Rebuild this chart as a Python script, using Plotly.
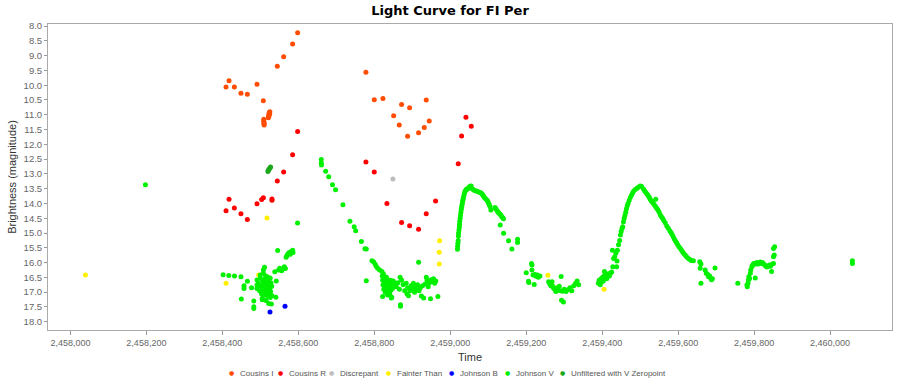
import plotly.graph_objects as go

# ---- photometry of FI Per (JD, magnitude) by band ----
cousins_i_jd = [2458409.7, 2458417.6, 2458431.6, 2458449.0, 2458465.8, 2458491.2, 2458507.9,
                2458509.0, 2458509.0, 2458509.5, 2458510.0, 2458510.0,
                2458521.0, 2458522.0, 2458522.5, 2458523.0, 2458524.0, 2458524.5, 2458525.0,
                2458544.7, 2458561.4, 2458585.0, 2458598.2,
                2458778.0, 2458800.0, 2458822.8, 2458851.0, 2458865.8, 2458871.9, 2458887.7,
                2458893.0, 2458916.6, 2458931.6, 2458936.8, 2458944.7]
cousins_i_mag = [10.06, 9.85, 10.06, 10.27, 10.31, 9.97, 10.53,
                 11.15, 11.22, 11.30, 11.28, 11.35,
                 11.10, 11.02, 11.06, 10.95, 10.92, 10.97, 10.90,
                 9.36, 9.04, 8.61, 8.23,
                 9.56, 10.49, 10.45, 11.03, 11.35, 10.65, 11.73,
                 10.76, 11.61, 11.43, 10.50, 11.21]

cousins_r_jd = [2458598.2, 2458585.0, 2458561.4, 2458544.7,
                2458409.7, 2458417.6, 2458431.6, 2458449.0, 2458465.8, 2458491.2, 2458503.5,
                2458508.0, 2458530.7, 2458530.7,
                2458778.0, 2458800.0, 2458833.3, 2458871.9, 2458893.0, 2458916.6, 2458936.8,
                2458961.4, 2459021.0, 2459029.8, 2459041.3, 2459055.3]
cousins_r_mag = [11.57, 12.35, 12.94, 13.24,
                 14.25, 13.86, 14.15, 14.35, 14.54, 14.01, 13.87,
                 13.81, 13.89, 13.85,
                 12.60, 12.94, 14.00, 14.64, 14.75, 14.87, 14.35,
                 13.92, 12.66, 11.72, 11.08, 11.39]

discrepant_jd = [2458849.0]
discrepant_mag = [13.17]

fainter_jd = [2458039.5, 2458409.7, 2458495.6, 2458517.5, 2458972.0, 2458971.0, 2458971.0,
              2459257.0, 2459405.0]
fainter_mag = [16.42, 16.70, 16.42, 14.49, 15.26, 15.65, 16.05, 16.43, 16.90]

johnson_b_jd = [2458525.4, 2458565.0]
johnson_b_mag = [17.67, 17.48]

unfiltered_jd = [2458520.0, 2458521.0, 2458523.0, 2458525.0, 2458527.0]
unfiltered_mag = [12.92, 12.88, 12.84, 12.80, 12.77]

# Johnson V, season by season
v_jd_2017 = [2458197.4]
v_mag_2017 = [13.37]

v_jd_2018 = [2458402, 2458417, 2458432, 2458449, 2458450, 2458457, 2458457, 2458466, 2458477,
             2458483, 2458483, 2458483, 2458491, 2458491, 2458491, 2458495, 2458498, 2458500,
             2458500, 2458502, 2458503, 2458505, 2458505, 2458505, 2458506, 2458508, 2458508,
             2458509, 2458510, 2458511, 2458511, 2458512, 2458513, 2458514, 2458515, 2458515,
             2458516, 2458517, 2458517, 2458518, 2458518, 2458519, 2458520, 2458520, 2458521,
             2458522, 2458522, 2458523, 2458524, 2458525, 2458526, 2458526, 2458527, 2458528,
             2458529, 2458530, 2458531, 2458538, 2458541, 2458542, 2458545.6, 2458548, 2458551,
             2458556, 2458560, 2458563, 2458566, 2458568, 2458570, 2458573, 2458576, 2458579,
             2458582, 2458585, 2458586, 2458598]
v_mag_2018 = [16.41, 16.44, 16.45, 16.48, 17.23, 16.78, 16.88, 16.63, 16.85,
              17.30, 17.49, 17.55, 16.59, 16.76, 16.88, 16.70, 16.95, 16.42,
              16.53, 16.80, 17.05, 16.93, 17.21, 17.26, 16.62, 16.25, 16.36,
              16.70, 16.85, 16.16, 16.98, 17.10, 16.55, 16.45, 16.78, 17.28,
              16.62, 16.90, 17.02, 16.48, 16.70, 16.82, 17.15, 16.58, 16.93,
              16.66, 17.38, 17.05, 16.74, 16.88, 16.52, 17.18, 16.98, 16.68,
              17.40, 16.80, 17.12, 16.31, 17.17, 16.62, 15.59, 16.25, 16.19,
              16.28, 16.22, 16.14, 16.20, 15.82, 15.76, 15.70, 15.66, 15.72,
              15.62, 15.58, 15.66, 14.66]

v_jd_2019 = [2458660.5, 2458660.5, 2458661, 2458672, 2458680, 2458690, 2458698, 2458717.5,
             2458736, 2458747, 2458751, 2458766, 2458775.5, 2458779, 2458779, 2458794, 2458798,
             2458802, 2458805, 2458809, 2458814,
             2458820, 2458821, 2458822, 2458822, 2458823, 2458824, 2458825, 2458826, 2458827,
             2458828, 2458829, 2458830, 2458831, 2458832, 2458833, 2458834, 2458835, 2458836,
             2458837, 2458838, 2458840, 2458841, 2458842, 2458843, 2458844, 2458845, 2458846,
             2458847, 2458848, 2458850, 2458851, 2458855, 2458858, 2458862, 2458866, 2458868,
             2458869, 2458869, 2458872, 2458876, 2458880, 2458884, 2458886, 2458888, 2458890,
             2458894, 2458897, 2458900, 2458903, 2458906, 2458908, 2458911, 2458914, 2458916.7,
             2458918, 2458921, 2458924, 2458927, 2458930, 2458934, 2458937, 2458939, 2458942,
             2458945, 2458948, 2458950, 2458953, 2458956, 2458959, 2458962, 2458967.5]
v_mag_2019 = [12.51, 12.63, 12.70, 12.91, 13.10, 13.37, 13.54, 14.04,
              14.60, 14.79, 14.92, 15.29, 15.53, 15.54, 16.61, 15.94, 15.97,
              16.05, 16.12, 16.19, 16.25,
              16.30, 16.45, 16.60, 17.15, 16.75, 16.38, 16.90, 16.55, 16.70,
              16.48, 17.00, 16.62, 16.80, 16.50, 16.95, 16.68, 17.10, 16.58,
              16.85, 16.72, 16.65, 17.05, 16.78, 16.60, 16.93, 17.20, 17.17,
              16.70, 16.88, 16.62, 16.75, 16.70, 16.82, 16.68, 16.90, 16.50,
              17.43, 17.48, 16.60, 16.75, 16.95, 16.70, 17.05, 16.85, 17.12,
              16.95, 16.78, 16.88, 16.70, 17.00, 16.82, 16.92, 16.75, 15.99,
              16.95, 16.85, 17.13, 16.78, 17.20, 16.72, 16.50, 16.60, 16.82,
              16.68, 17.22, 16.58, 16.65, 16.55, 16.70, 16.62, 17.15]

v_jd_2020 = [2459019, 2459019.5, 2459020, 2459021, 2459021.5, 2459022, 2459023, 2459024,
             2459024.5, 2459025, 2459026, 2459027, 2459028, 2459029, 2459030, 2459031, 2459032,
             2459033, 2459034, 2459035, 2459036.5, 2459038, 2459040, 2459042, 2459044, 2459046,
             2459048, 2459050, 2459052, 2459055, 2459058, 2459061, 2459064, 2459068, 2459071,
             2459075, 2459078, 2459081, 2459084, 2459086, 2459088, 2459090, 2459093, 2459096.5,
             2459099, 2459101, 2459103, 2459105, 2459107, 2459118, 2459120, 2459123, 2459125,
             2459127, 2459130, 2459132, 2459134, 2459136, 2459138, 2459140, 2459131.6, 2459140.4,
             2459153.5, 2459162.3, 2459177.2, 2459177.2,
             2459200, 2459206, 2459207, 2459214, 2459215, 2459215, 2459218, 2459221, 2459223,
             2459226, 2459229, 2459232, 2459236, 2459259, 2459262, 2459265, 2459268, 2459270,
             2459272, 2459275, 2459278, 2459281, 2459284, 2459287, 2459290, 2459292, 2459293,
             2459296, 2459298, 2459300, 2459305, 2459310, 2459315, 2459320, 2459325, 2459330,
             2459334, 2459338]
v_mag_2020 = [15.55, 15.45, 15.35, 15.25, 15.10, 15.00, 14.90, 14.80,
              14.70, 14.60, 14.50, 14.40, 14.30, 14.20, 14.12, 14.05, 13.98,
              13.90, 13.85, 13.78, 13.70, 13.62, 13.57, 13.53, 13.52, 13.50,
              13.48, 13.45, 13.42, 13.41, 13.50, 13.54, 13.56, 13.58, 13.59,
              13.61, 13.63, 13.65, 13.68, 13.72, 13.76, 13.80, 13.84, 13.88,
              13.93, 13.99, 14.05, 14.11, 14.22, 14.14, 14.18, 14.24, 14.27,
              14.31, 14.35, 14.37, 14.41, 14.45, 14.48, 14.52, 14.73, 15.01,
              15.26, 15.54, 15.21, 15.32,
              16.34, 16.63, 16.67, 16.03, 16.08, 16.25, 16.42, 16.74, 16.40,
              16.46, 16.42, 16.50, 16.45, 16.65, 16.72, 16.78, 16.65, 16.80,
              16.86, 16.90, 16.98, 16.85, 16.93, 16.80, 16.95, 16.47, 17.27,
              16.97, 17.33, 16.90, 16.98, 16.92, 16.85, 16.95, 16.78, 16.70,
              16.62, 16.75]

v_jd_2021 = [2459390, 2459392, 2459395, 2459397, 2459399, 2459401, 2459403, 2459405, 2459406,
             2459408, 2459410, 2459412, 2459414, 2459416, 2459419, 2459422, 2459425, 2459427,
             2459428, 2459430, 2459433, 2459436, 2459438, 2459439, 2459440, 2459443, 2459446,
             2459448, 2459450, 2459452, 2459454, 2459456, 2459458, 2459460, 2459462, 2459464,
             2459466, 2459468, 2459471, 2459474, 2459477, 2459480, 2459483, 2459487, 2459491,
             2459495, 2459500, 2459504, 2459509, 2459512, 2459515, 2459518, 2459521, 2459524,
             2459526, 2459529, 2459532, 2459535, 2459541, 2459538, 2459541, 2459544, 2459547,
             2459550, 2459553, 2459556, 2459559, 2459562, 2459566, 2459570, 2459574, 2459578,
             2459581, 2459584, 2459587, 2459590, 2459593, 2459596, 2459599, 2459602, 2459606,
             2459609, 2459612, 2459615, 2459619, 2459622, 2459626, 2459630, 2459634, 2459640,
             2459657, 2459658, 2459660, 2459660, 2459671, 2459674, 2459678, 2459680, 2459683,
             2459686, 2459688, 2459690, 2459697]
v_mag_2021 = [16.70, 16.60, 16.75, 16.55, 16.65, 16.50, 16.62, 16.45, 16.30,
              16.48, 16.40, 16.55, 16.42, 16.38, 16.45, 16.35, 16.32, 15.58,
              16.14, 15.86, 15.80, 15.68, 16.14, 15.95, 15.58, 15.40, 15.25,
              15.07, 14.95, 14.85, 14.79, 14.62, 14.50, 14.40, 14.30, 14.18,
              14.08, 14.00, 13.90, 13.80, 13.72, 13.65, 13.58, 13.53, 13.49,
              13.45, 13.41, 13.43, 13.52, 13.58, 13.63, 13.68, 13.73, 13.79,
              13.85, 13.91, 13.96, 14.00, 13.86, 14.06, 14.11, 14.17, 14.22,
              14.30, 14.39, 14.45, 14.50, 14.58, 14.65, 14.76, 14.84, 14.92,
              14.98, 15.05, 15.13, 15.20, 15.27, 15.33, 15.40, 15.46, 15.52,
              15.58, 15.64, 15.70, 15.75, 15.80, 15.85, 15.89, 15.93, 15.94,
              15.97, 16.19, 16.05, 16.70, 16.25, 16.36, 16.40, 16.48, 16.45,
              16.53, 16.58, 16.55, 16.18]

v_jd_2022 = [2459757, 2459781, 2459782, 2459784, 2459785, 2459786, 2459788, 2459790, 2459791,
             2459794, 2459796, 2459798, 2459800, 2459803, 2459805, 2459807, 2459810, 2459813,
             2459816, 2459819, 2459822, 2459825, 2459828, 2459831, 2459834, 2459840, 2459843,
             2459846, 2459848, 2459851, 2459851, 2459853, 2459851, 2459854]
v_mag_2022 = [16.70, 16.76, 16.82, 16.70, 16.59, 16.48, 16.54, 16.36, 16.25,
              16.14, 16.10, 16.05, 16.03, 16.52, 16.05, 16.00, 16.05, 16.02,
              15.98, 16.03, 16.00, 16.05, 16.08, 16.12, 16.15, 16.08, 16.12,
              16.30, 16.05, 16.03, 15.80, 15.74, 15.52, 15.46]

v_jd_2023 = [2460058.7, 2460058.7]
v_mag_2023 = [15.94, 16.03]

johnson_v_jd = v_jd_2017 + v_jd_2018 + v_jd_2019 + v_jd_2020 + v_jd_2021 + v_jd_2022 + v_jd_2023
johnson_v_mag = (v_mag_2017 + v_mag_2018 + v_mag_2019 + v_mag_2020 + v_mag_2021
                 + v_mag_2022 + v_mag_2023)

series = [
    ("Cousins I", cousins_i_jd, cousins_i_mag, "#FF4C00"),
    ("Cousins R", cousins_r_jd, cousins_r_mag, "#FF0000"),
    ("Discrepant", discrepant_jd, discrepant_mag, "#BDBDBD"),
    ("Fainter Than", fainter_jd, fainter_mag, "#FFF000"),
    ("Johnson B", johnson_b_jd, johnson_b_mag, "#0000FF"),
    ("Johnson V", johnson_v_jd, johnson_v_mag, "#00F000"),
    ("Unfiltered with V Zeropoint", unfiltered_jd, unfiltered_mag, "#1CA81C"),
]

fig = go.Figure()
for name, xs, ys, color in series:
    fig.add_trace(go.Scatter(x=xs, y=ys, mode="markers", name=name, showlegend=False,
                             marker=dict(size=5, color=color, line=dict(width=0))))

# plot box in pixels
W, H = 899, 392
L, R, T, B = 48, 7, 24, 62
pw, ph = W - L - R, H - T - B

# legend row below the axis: a small dot followed by the series name
legend_px = [231, 280, 331, 388, 451, 507, 562]
legend_y = 373
ly = (H - B - legend_y) / ph
annotations = []
for (name, _, _, color), px in zip(series, legend_px):
    annotations.append(dict(
        x=(px - L) / pw, y=ly + 0.002, xref="paper", yref="paper",
        xanchor="center", yanchor="middle", showarrow=False,
        text="●", font=dict(family="DejaVu Sans, sans-serif", size=6, color=color),
    ))
    annotations.append(dict(
        x=(px + 7 - L) / pw, y=ly, xref="paper", yref="paper",
        xanchor="left", yanchor="middle", showarrow=False,
        text=name, font=dict(family="Liberation Sans, Arial, sans-serif", size=8, color="#555"),
    ))

fig.update_layout(
    width=W, height=H,
    margin=dict(l=L, r=R, t=T, b=B),
    paper_bgcolor="white", plot_bgcolor="white",
    showlegend=False,
    title=dict(text="<b>Light Curve for FI Per</b>", x=450 / W, xanchor="center",
               y=1 - 10 / H, yanchor="middle", yref="container",
               font=dict(family="DejaVu Sans, Liberation Sans, sans-serif", size=13, color="#000")),
    annotations=annotations,
)

fig.update_xaxes(
    range=[2457941, 2460163], tickmode="array",
    tickvals=list(range(2458000, 2460001, 200)), tickformat=",d",
    ticks="outside", ticklen=4, tickcolor="#999",
    showline=True, linecolor="#AAAAAA", mirror=True, showgrid=False, zeroline=False,
    tickfont=dict(family="Liberation Sans, Arial, sans-serif", size=9, color="#666"),
    title=dict(text="Time", standoff=6,
               font=dict(family="Liberation Sans, Arial, sans-serif", size=11, color="#333")),
)
fig.update_yaxes(
    range=[18.28, 7.93], tick0=8.0, dtick=0.5, tickformat=".1f",
    ticks="outside", ticklen=3, tickcolor="#999",
    showline=True, linecolor="#AAAAAA", mirror=True, showgrid=False, zeroline=False,
    tickfont=dict(family="Liberation Sans, Arial, sans-serif", size=9.5, color="#666"),
    title=dict(text="Brightness (magnitude)", standoff=4,
               font=dict(family="Liberation Sans, Arial, sans-serif", size=11, color="#333")),
)

fig.write_html("out.html")
